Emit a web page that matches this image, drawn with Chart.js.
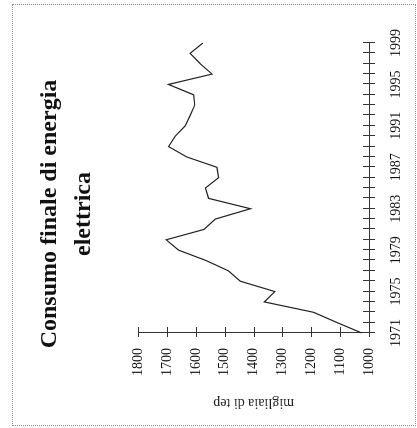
<!DOCTYPE html>
<html>
<head>
<meta charset="utf-8">
<script src="https://cdn.jsdelivr.net/npm/chart.js@4.4.1/dist/chart.umd.min.js"></script>
<style>
  html, body { margin: 0; padding: 0; background: #fff; }
  body { width: 417px; height: 428px; position: relative; overflow: hidden; }
  #frame { position: absolute; left: 12px; top: 4px; width: 402px; height: 420px; border: 1px dotted #8c8c8c; }
  /* the chart is drawn upright and turned a quarter turn to the left, like the scan */
  #wrap { position: absolute; left: 0; top: 0; width: 428px; height: 417px;
          transform-origin: 0 0; transform: translateY(428px) rotate(-90deg); }
</style>
</head>
<body>
<div id="frame"></div>
<div id="wrap"><canvas id="chart1" width="428" height="417"></canvas></div>
<script>
const years = ['1971', '1972', '1973', '1974', '1975', '1976', '1977', '1978', '1979', '1980',
               '1981', '1982', '1983', '1984', '1985', '1986', '1987', '1988', '1989', '1990',
               '1991', '1992', '1993', '1994', '1995', '1996', '1997', '1998', '1999'];
const consumo = [1025, 1110, 1192, 1363, 1326, 1446, 1487, 1565, 1660, 1703,
                 1572, 1533, 1411, 1556, 1567, 1521, 1527, 1632, 1695, 1672,
                 1637, 1620, 1604, 1608, 1695, 1544, 1585, 1620, 1576];
const yearTicks = ['1971', '1975', '1979', '1983', '1987', '1991', '1995', '1999'];
const valueMin = 1000;
const valueMax = 1800;
const valueStep = 100;

const serif = 'Liberation Serif';

// little tick marks that cross the axis lines
const crossTicks = {
    id: 'crossTicks',
    afterDraw(chart) {
        const { ctx, chartArea, scales } = chart;
        ctx.save();
        ctx.strokeStyle = '#333';
        ctx.lineWidth = 1;
        ctx.beginPath();
        scales.x.ticks.forEach((t, i) => {
            const px = Math.round(scales.x.getPixelForTick(i)) + 0.5;
            ctx.moveTo(px, chartArea.bottom - 6);
            ctx.lineTo(px, chartArea.bottom + 6);
        });
        scales.y.ticks.forEach((t, i) => {
            const py = Math.round(scales.y.getPixelForTick(i)) + 0.5;
            ctx.moveTo(chartArea.left - 4, py);
            ctx.lineTo(chartArea.left + 6, py);
        });
        ctx.stroke();
        ctx.restore();
    }
};

const ctx = document.getElementById('chart1').getContext('2d');
const chart1 = new Chart(ctx, {
    type: 'line',
    data: {
        labels: years,
        datasets: [
            {
                label: 'Consumo finale di energia elettrica',
                data: consumo,
                borderColor: '#222',
                borderWidth: 1.2,
                pointRadius: 0,
                tension: 0,
                fill: false
            }
        ]
    },
    options: {
        responsive: false,
        animation: false,
        layout: {
            padding: 0
        },
        scales: {
            x: {
                grid: { display: false },
                border: { display: true, color: '#333', width: 1 },
                // keep the empty strip on the right inside the axis, so the title stays centred on the page
                afterFit: (scale) => { scale.height = 48; scale.paddingRight = 43; },
                ticks: {
                    autoSkip: false,
                    maxRotation: 0,
                    padding: 11,
                    color: '#111',
                    font: { family: serif, size: 14 },
                    callback: function (value) {
                        const lab = this.getLabelForValue(value);
                        return yearTicks.includes(lab) ? lab : '';
                    }
                }
            },
            y: {
                min: valueMin,
                max: valueMax,
                grid: { display: false },
                border: { display: true, color: '#333', width: 1 },
                afterFit: (scale) => { scale.width = 95; },
                ticks: {
                    stepSize: valueStep,
                    padding: 7,
                    color: '#111',
                    font: { family: serif, size: 14 },
                    callback: (value) => String(value)
                },
                title: {
                    display: true,
                    text: 'migliaia di tep',
                    color: '#222',
                    padding: { top: 17, bottom: 0 },
                    font: { family: serif, size: 14 }
                }
            }
        },
        plugins: {
            legend: { display: false },
            tooltip: { enabled: false },
            title: {
                display: true,
                text: ['Consumo finale di energia', 'elettrica'],
                color: '#111',
                padding: { top: 33, bottom: 38 },
                font: { family: serif, size: 24, weight: 'bold', lineHeight: 1.4 }
            }
        }
    },
    plugins: [crossTicks]
});
</script>
</body>
</html>
